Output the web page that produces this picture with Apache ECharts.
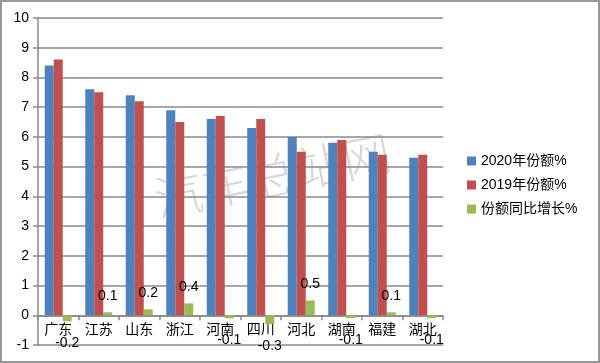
<!DOCTYPE html>
<html>
<head>
<meta charset="utf-8">
<script src="https://cdn.jsdelivr.net/npm/echarts@6/dist/echarts.min.js"></script>
<style>html,body{margin:0;padding:0;background:#fff}#c{width:600px;height:363px}</style>
</head>
<body>
<div id="c"></div>
<script>
const categories = ['广东','江苏','山东','浙江','河南','四川','河北','湖南','福建','湖北'];
const share2020 = [8.4, 7.6, 7.4, 6.9, 6.6, 6.3, 6.0, 5.8, 5.5, 5.3];
const share2019 = [8.6, 7.5, 7.2, 6.5, 6.7, 6.6, 5.5, 5.9, 5.4, 5.4];
const growth = [-0.2, 0.1, 0.2, 0.4, -0.1, -0.3, 0.5, -0.1, 0.1, -0.1];
const seriesNames = ['2020年份额%','2019年份额%','份额同比增长%'];
const yTicks = {min: -1, max: 10, interval: 1};

const H = 363, gridTop = 18, gridBottom = 18;
const plotH = H - gridTop - gridBottom;
const zeroOffset = plotH * (0 - yTicks.min) / (yTicks.max - yTicks.min);

const chart = echarts.init(document.getElementById('c'));
const growthData = growth.map(v => ({
  value: v,
  label: {position: v >= 0 ? 'top' : 'bottom', distance: v >= 0 ? 9 : 15}
}));
chart.setOption({
  animation: false,
  backgroundColor: '#fff',
  textStyle: {fontFamily: 'Liberation Sans, Noto Sans CJK SC, sans-serif'},
  graphic: [
    {type: 'rect', shape: {x: 1, y: 1, width: 598, height: 361}, style: {fill: 'none', stroke: '#999', lineWidth: 2}, z: 100},
    {type: 'text', left: 150, top: 128, rotation: 0.2, z: 0, silent: true,
     style: {text: '汽车总站网', fontSize: 48, fill: 'rgba(0,0,0,0.16)', fontFamily: 'Noto Sans CJK SC', fontWeight: 200}}
  ],
  grid: {left: 38, right: 157, top: gridTop, bottom: gridBottom, containLabel: false},
  legend: {
    orient: 'vertical', left: 462, top: 149,
    itemWidth: 9, itemHeight: 9, itemGap: 10, icon: 'rect',
    textStyle: {fontSize: 14, color: '#000', fontFamily: 'Liberation Sans, Noto Sans CJK SC, sans-serif'},
    data: seriesNames
  },
  xAxis: {
    type: 'category', data: categories,
    offset: -zeroOffset,
    axisLine: {onZero: false, lineStyle: {color: '#888', width: 1.5}},
    axisTick: {show: true, length: 5, lineStyle: {color: '#888', width: 1.5}},
    axisLabel: {fontSize: 14, color: '#000', margin: 6, interval: 0, fontFamily: 'Noto Sans CJK SC'},
    splitLine: {show: false}
  },
  yAxis: {
    type: 'value', min: yTicks.min, max: yTicks.max, interval: yTicks.interval,
    axisLine: {show: true, lineStyle: {color: '#888', width: 1.5}},
    axisTick: {show: true, length: 5, lineStyle: {color: '#888', width: 1.5}},
    axisLabel: {fontSize: 14, color: '#000', margin: 9},
    splitLine: {show: true, lineStyle: {color: '#8a8a8a', width: 1.5}}
  },
  series: [
    {name: seriesNames[0], type: 'bar', data: share2020, barWidth: 9, barGap: '0%',
     itemStyle: {color: '#4F81BD'}},
    {name: seriesNames[1], type: 'bar', data: share2019, barWidth: 9, barGap: '0%',
     itemStyle: {color: '#C0504D'}},
    {name: seriesNames[2], type: 'bar', data: growthData, barWidth: 9, barGap: '0%',
     itemStyle: {color: '#9BBB59'},
     label: {show: true, fontSize: 14, color: '#000', formatter: p => String(p.value)}}
  ]
});
</script>
</body>
</html>
